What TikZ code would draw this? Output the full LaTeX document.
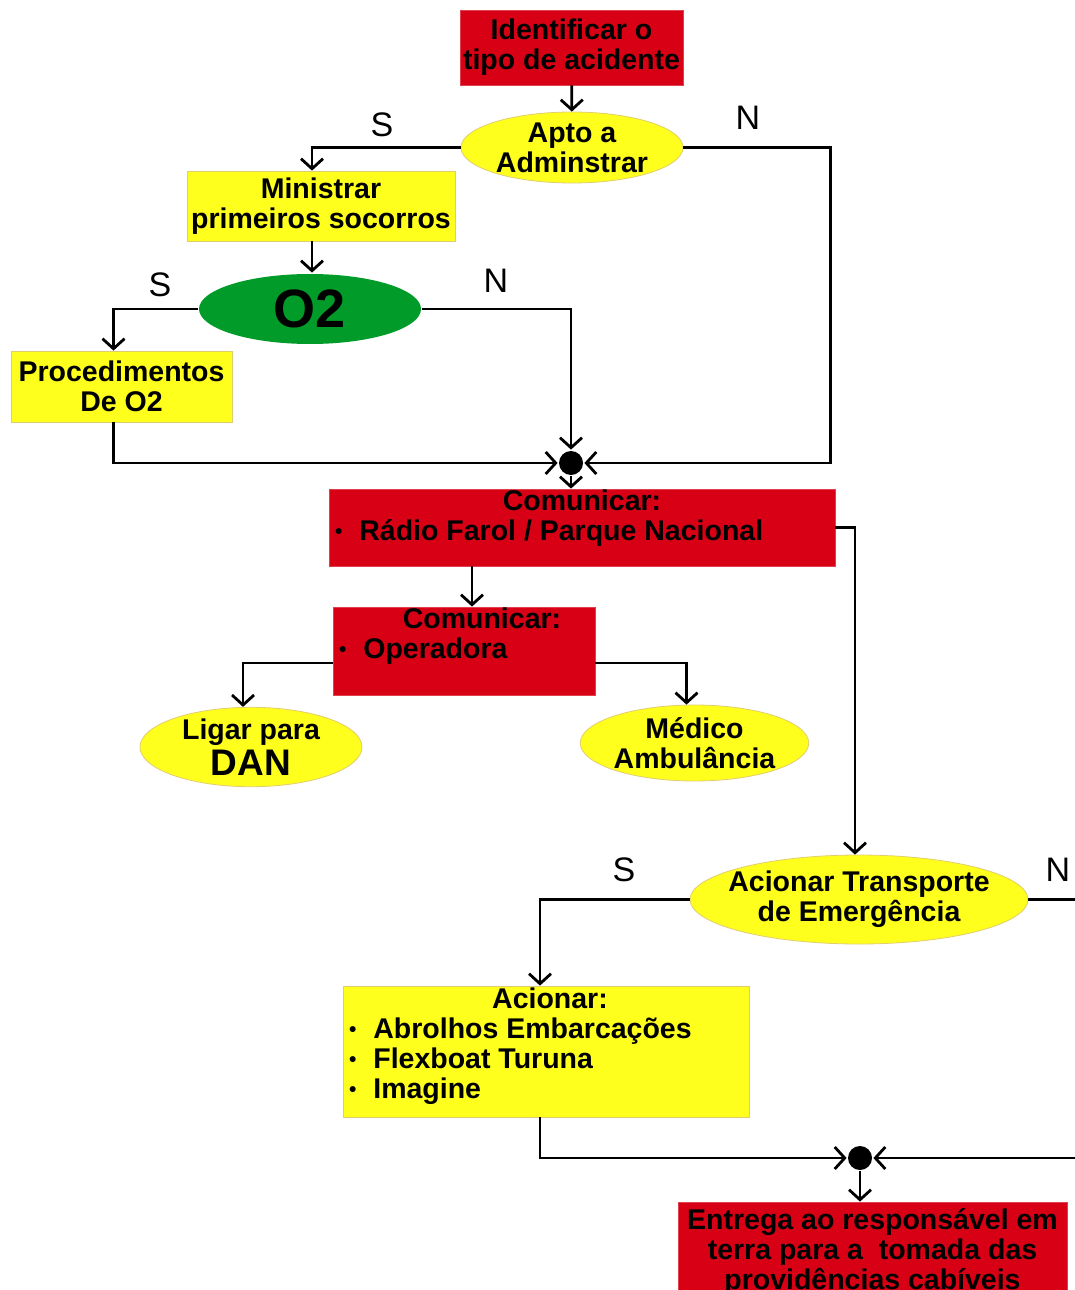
\documentclass[tikz,border=0pt]{standalone}
\usepackage{fontspec}
\setmainfont{Liberation Sans}
\usetikzlibrary{shapes.geometric,arrows.meta}
\definecolor{boxred}{RGB}{216,0,20}
\definecolor{boxyellow}{RGB}{255,255,30}
\definecolor{boxedge}{RGB}{225,205,110}
\definecolor{ovalgreen}{RGB}{0,155,40}
\newcommand{\blt}{\raisebox{2.5pt}{\fontsize{21}{21}\selectfont\textbullet}\hspace{17pt}}

\begin{document}
\begin{tikzpicture}[x=1pt,y=-1pt,line width=2.8pt,
    >={Straight Barb[length=10pt,width=22pt]},
    redbox/.style={rectangle,fill=boxred,draw=boxred!75!white,line width=0.8pt,inner sep=0pt,align=center,font=\bfseries\fontsize{28.5}{30}\selectfont},
    yelbox/.style={rectangle,fill=boxyellow,draw=boxedge,line width=0.8pt,inner sep=0pt,align=center,font=\bfseries\fontsize{28.5}{30}\selectfont},
    yeloval/.style={ellipse,fill=boxyellow,draw=boxedge,line width=0.8pt,inner sep=0pt,align=center,font=\bfseries\fontsize{28.5}{30}\selectfont},
    dot/.style={circle,fill=black,minimum size=24pt,inner sep=0pt},
    lbl/.style={font=\fontsize{34}{34}\selectfont}]
            \useasboundingbox (0,0) rectangle (1075,1290);
            \clip (0,0) rectangle (1075,1290);
            % boxes and ovals
            \node[redbox,minimum width=223,minimum height=75] (ident) at (571.5,47.5) {Identificar o\\tipo de acidente};
            \node[yeloval,minimum width=222,minimum height=71] (apto) at (572,147.5) {Apto a\\Adminstrar};
            \node[yelbox,minimum width=268,minimum height=70] (ministrar) at (321,206) {Ministrar\\primeiros socorros};
            \node[ellipse,fill=ovalgreen,inner sep=0pt,minimum width=222,minimum height=70,font=\bfseries\fontsize{54}{54}\selectfont] (o2) at (310,309) {O2};
            \node[yelbox,minimum width=221,minimum height=71] (proc) at (121.5,386.5) {Procedimentos\\De O2};
            \node[dot] (join1) at (571,463) {};
            \node[redbox,minimum width=506,minimum height=77] (comm1) at (582,527.5)
                {\parbox[c][75pt][t]{494pt}{\centering Comunicar:\par\raggedright\blt Rádio Farol / Parque Nacional}};
            \node[redbox,minimum width=262,minimum height=88] (comm2) at (464,651)
                {\parbox[c][86pt][t]{250pt}{\centering\hspace*{36pt}Comunicar:\par\raggedright\blt Operadora}};
            \node[yeloval,minimum width=222,minimum height=72] (dan) at (251,747) {Ligar para\\[3pt]{\fontsize{37}{37}\selectfont DAN}};
            \node[yeloval,minimum width=223,minimum height=76] (medico) at (694.5,743) {Médico\\Ambulância};
            \node[yeloval,inner xsep=-16pt,minimum width=338,minimum height=89] (transp) at (859,899.5) {Acionar Transporte\\de Emergência};
            \node[yelbox,minimum width=406,minimum height=131] (acionar) at (546,1051.5)
                {\parbox[c][127pt][t]{394pt}{\centering\hspace*{8pt}Acionar:\par\raggedright\blt Abrolhos Embarcações\par\blt Flexboat Turuna\par\blt Imagine}};
            \node[dot] (join2) at (860,1158) {};
            \node[redbox,minimum width=389,minimum height=100] (final) at (872.5,1252) {Entrega ao responsável em\\terra para a~ tomada das\\providências cabíveis};
            % S / N labels
            \node[lbl] (s1) at (382,125) {S};
            \node[lbl] (n1) at (748,118) {N};
            \node[lbl] (s2) at (160,285) {S};
            \node[lbl] (n2) at (496,281) {N};
            \node[lbl] (s3) at (624,870) {S};
            \node[lbl] (n3) at (1058,870) {N};
            % connectors
            \draw[->] (ident) -- (apto);
            \draw[->] (apto.west) -| ([xshift=-9pt]ministrar.north);
            \draw[->] (apto.east) -- ++(147,0) |- (join1);
            \draw[->] ([xshift=-9pt]ministrar.south) -- ([xshift=2pt]o2.north);
            \draw[->] (o2.west) -| ([xshift=-8pt]proc.north);
            \draw[->] (o2.east) -| (join1);
            \draw[->] ([xshift=-8pt]proc.south) |- (join1);
            \draw[->] (join1) -- ([xshift=-11pt]comm1.north);
            \draw[->] ([xshift=-110pt]comm1.south) -- ([xshift=8pt]comm2.north);
            \draw[->] ([yshift=-12pt]comm2.west) -| ([xshift=-8pt]dan.north);
            \draw[->] ([yshift=-12pt]comm2.east) -| ([xshift=-8pt]medico.north);
            \draw[->] (comm1.east) -| ([xshift=-4pt]transp.north);
            \draw[->] (transp.west) -| ([xshift=-6pt]acionar.north);
            \draw[->] (transp.east) -- ++(62,0) |- (join2);
            \draw[->] ([xshift=-6pt]acionar.south) |- (join2);
            \draw[->] (join2) -- ([xshift=-12.5pt]final.north);
        \end{tikzpicture}
\end{document}
